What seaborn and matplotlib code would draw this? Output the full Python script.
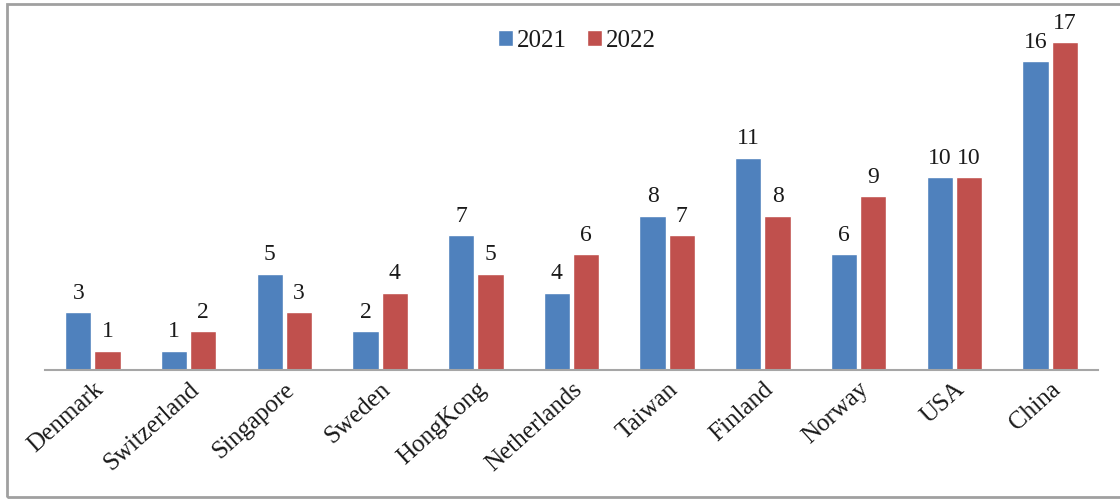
import pandas as pd
import matplotlib.pyplot as plt
import seaborn as sns
from matplotlib.patches import Rectangle

# Chart data
countries = ['Denmark', 'Switzerland', 'Singapore', 'Sweden', 'HongKong',
             'Netherlands', 'Taiwan', 'Finland', 'Norway', 'USA', 'China']
values_2021 = [3, 1, 5, 2, 7, 4, 8, 11, 6, 10, 16]
values_2022 = [1, 2, 3, 4, 5, 6, 7, 8, 9, 10, 17]
years = ['2021', '2022']

df = pd.DataFrame({
    'country': countries * 2,
    'year': [years[0]] * len(countries) + [years[1]] * len(countries),
    'value': values_2021 + values_2022,
})

sns.set_style('white')
plt.rcParams['font.family'] = ['Liberation Serif', 'DejaVu Serif']

fig = plt.figure(figsize=(11.2, 5), dpi=100)
ax = fig.add_axes([45 / 1120, 130 / 500, 1053 / 1120, 355 / 500])

sns.barplot(data=df, x='country', y='value', hue='year',
            palette=['#4F81BD', '#C0504D'], width=0.61, gap=0.1,
            saturation=1, ax=ax)

# Value labels
for c in ax.containers:
    ax.bar_label(c, fmt='%d', padding=6, fontsize=17, color='#1a1a1a')

ax.set_xlim(-0.5, len(countries) - 0.5)
ax.set_ylim(0, 355 / 19.3)
ax.set_xlabel('')
ax.set_ylabel('')
ax.set_yticks([])
ax.tick_params(axis='x', length=0, pad=6)
plt.setp(ax.get_xticklabels(), rotation=42, ha='right', rotation_mode='anchor',
         fontsize=18, color='#1a1a1a')

for side in ['top', 'right', 'left']:
    ax.spines[side].set_visible(False)
ax.spines['bottom'].set_color('#A6A6A6')
ax.spines['bottom'].set_linewidth(1.5)

leg = ax.legend(loc='upper center', bbox_to_anchor=(0.505, 1.0), ncol=2,
                frameon=False, fontsize=18, handlelength=0.6, handleheight=0.6,
                handletextpad=0.15, columnspacing=0.8, borderaxespad=0.2)
for t in leg.get_texts():
    t.set_color('#1a1a1a')

# Outer frame around the chart
fig.patches.append(Rectangle((7 / 1120, 3 / 500), 1.2, 493 / 500,
                             transform=fig.transFigure, fill=False,
                             edgecolor='#A0A0A0', linewidth=2))

fig.savefig('out.png', dpi=100)
